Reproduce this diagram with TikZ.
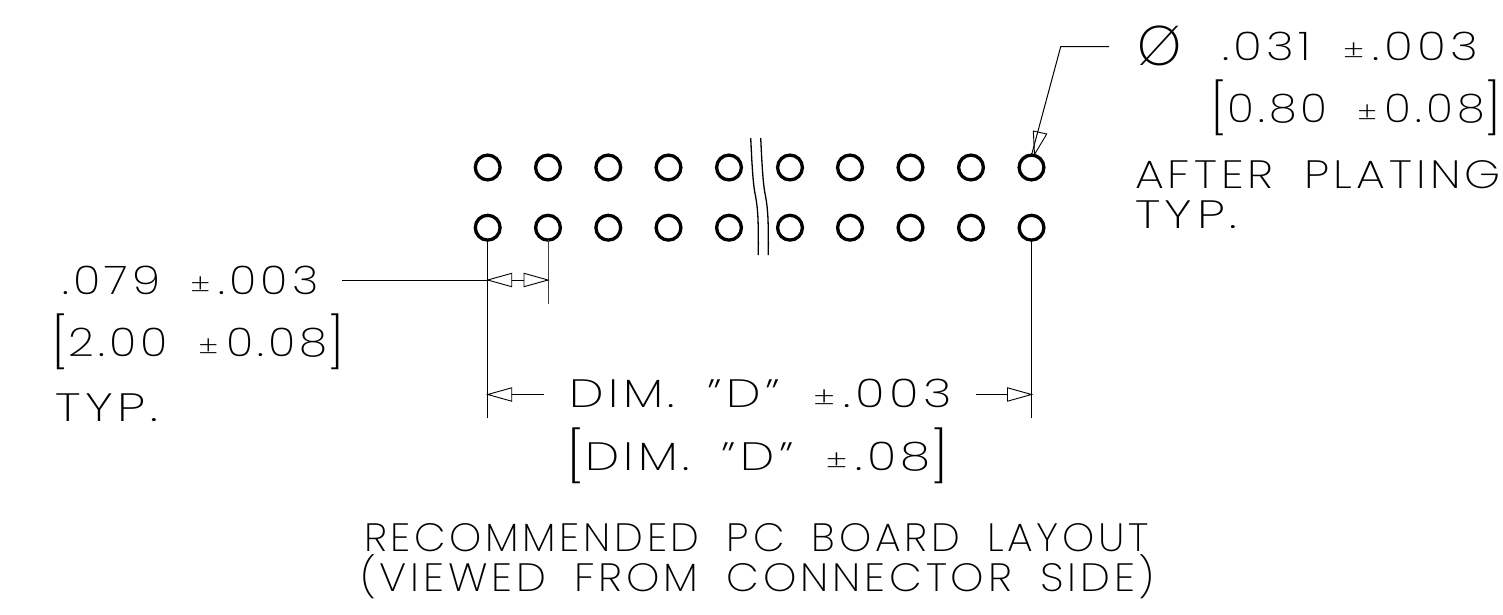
\documentclass[tikz,border=0pt]{standalone}
\usepackage{fontspec}
\usepackage{graphicx}
\setmainfont[LetterSpace=9,WordSpace=1.8]{Poppins ExtraLight}
\tikzset{
  x=1pt,y=-1pt,
  hole/.style={circle,draw,line width=3.3pt,minimum size=24.8pt,inner sep=0pt,outer sep=0pt},
  thin line/.style={line width=1pt},
  grey line/.style={line width=1pt,black!75},
  cad/.style={anchor=base west,inner sep=0pt,outer sep=0pt,font=\fontsize{39.5}{40}\selectfont},
  tip/.style={line width=0.9pt,line join=miter,fill=white}
}
\newcommand{\fitw}[2]{\resizebox{#1pt}{\height}{#2}}
\newcommand{\lbr}{\raisebox{-4pt}{\fontsize{50}{50}\selectfont[}}
\newcommand{\rbr}{\raisebox{-4pt}{\fontsize{50}{50}\selectfont]}}
\newcommand{\plmn}{{\fontsize{28}{28}\selectfont ±}\kern7pt}
\begin{document}
\begin{tikzpicture}
\useasboundingbox (0,0) rectangle (1503,615);
% holes
\foreach \i/\xx in {1/487.7,2/548,3/608.3,4/668.5,5/729,6/790,7/850,8/910.5,9/971,10/1031.5}{
  \node[hole] (t\i) at (\xx,167.5) {};
  \node[hole] (b\i) at (\xx,227.7) {};
}
% break lines
\draw[line width=1.3pt] (750.7,138) .. controls (752,165) and (753,185) .. (755.5,196) .. controls (758,210) and (758.5,220) .. (758.3,255);
\draw[line width=1.3pt] (760.7,138) .. controls (762,165) and (763,185) .. (765.5,196) .. controls (768,210) and (768.5,220) .. (768.3,255);
% extension lines
\coordinate (e1) at (b1.south |- 0,418);
\coordinate (e2) at (b2.south |- 0,304);
\coordinate (e10) at (b10.south |- 0,418);
\draw[thin line] (b1.south) -- (e1);
\draw[grey line] (b2.south) -- (e2);
\draw[thin line] (b10.south) -- (e10);
% .079 dimension
\coordinate (ps) at (342,280);
\coordinate (pa) at (b1.south |- 0,280);
\coordinate (pb) at (b2.south |- 0,280);
\draw[thin line] (ps) -- (pb);
\draw[tip] (pa) -- ++(24,-6.7) -- ++(0,13.4) -- cycle;
\draw[tip] (pb) -- ++(-24,-6.7) -- ++(0,13.4) -- cycle;
% D dimension
\coordinate (da) at (b1.south |- 0,394.5);
\coordinate (db) at (b10.south |- 0,394.5);
\coordinate (dl) at (544,394.5);
\coordinate (dr) at (976,394.5);
\draw[thin line] (da) -- (dl);
\draw[thin line] (dr) -- (db);
\draw[tip] (da) -- ++(24,-6.7) -- ++(0,13.4) -- cycle;
\draw[tip] (db) -- ++(-24,-6.7) -- ++(0,13.4) -- cycle;
% leader
\coordinate (l0) at (1109,46.7);
\coordinate (l1) at (1060.7,46.7);
\coordinate (l2) at (t10.north);
\draw[thin line] (l0) -- (l1) -- (l2);
\draw[tip,fill=none] (1034.5,154.5) -- (1033.3,131) -- (1046.7,134) -- cycle;
% texts
\node[cad,anchor=center,font=\fontsize{56}{56}\selectfont] (phi) at (1160,46) {Ø};
\node[cad] (n1) at (1222,60.7) {\fitw{256}{.031 \plmn.003}};
\node[cad] (n2) at (1210.7,122.7) {\fitw{291}{\lbr0.80 \plmn0.08\rbr}};
\node[cad] (n3) at (1135,188.3) {\fitw{366}{AFTER PLATING}};
\node[cad] (n4) at (1135,228.3) {\fitw{102}{TYP.}};
\node[cad] (n5) at (62.3,294) {\fitw{256}{.079 \plmn.003}};
\node[cad] (n6) at (51.7,356.7) {\fitw{293}{\lbr2.00 \plmn0.08\rbr}};
\node[cad] (n7) at (55,421.7) {\fitw{103}{TYP.}};
\node[cad] (n8) at (569.6,407.7) {\fitw{382}{DIM. "D" \plmn.003}};
\node[cad] (n9) at (566.7,470.7) {\fitw{382.5}{\lbr DIM. "D" \plmn.08\rbr}};
\node[cad] (n10) at (364,551.7) {\fitw{785}{RECOMMENDED PC BOARD LAYOUT}};
\node[cad] (n11) at (360,591.7) {\fitw{795}{(VIEWED FROM CONNECTOR SIDE)}};
\end{tikzpicture}
\end{document}
